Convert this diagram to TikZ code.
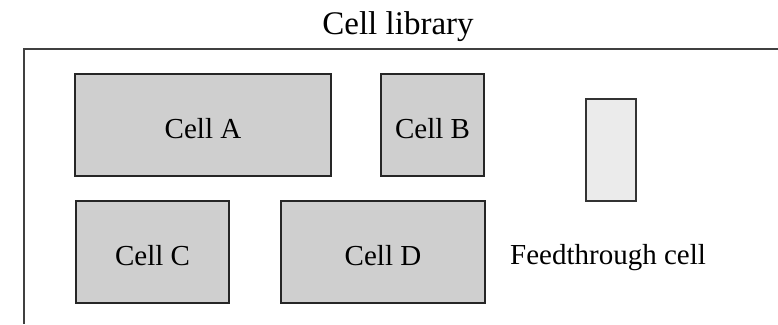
\documentclass[tikz,border=0pt]{standalone}
\usepackage{fontspec}
\setmainfont{Liberation Serif}
\begin{document}
\begin{tikzpicture}[x=1pt,y=-1pt,
  cellbox/.style={draw=black!85, line width=2pt, fill=black!19, inner sep=0pt,
    text height=27pt, text depth=0pt, font=\fontsize{29}{32}\selectfont},
  feedbox/.style={draw=black!80, line width=2pt, fill=black!8, inner sep=0pt},
  frameline/.style={draw=black!75, line width=2.2pt},
  lbl/.style={font=\fontsize{29}{32}\selectfont, inner sep=0pt}]
  \useasboundingbox (0,0) rectangle (778,324);
  % title
  \node[font=\fontsize{33}{36}\selectfont, inner sep=0pt, anchor=base] (title) at (398,34) {Cell library};
  % library frame (open at right and bottom)
  \coordinate (ftl) at (24,49);
  \coordinate (ftr) at (778,49);
  \coordinate (fbl) at (24,324);
  \draw[frameline] (ftr) -- (ftl) -- (fbl);
  % cells
  \node[cellbox, minimum width=256pt, minimum height=102pt] (cellA) at (203,125) {Cell A};
  \node[cellbox, minimum width=103pt, minimum height=102pt] (cellB) at (432.5,125) {Cell B};
  \node[cellbox, minimum width=153pt, minimum height=102pt] (cellC) at (152.5,251.5) {Cell C};
  \node[cellbox, minimum width=204pt, minimum height=102pt] (cellD) at (383,251.5) {Cell D};
  \node[feedbox, minimum width=50pt, minimum height=102pt] (feed) at (611,149.5) {};
  \node[lbl, anchor=base west] (feedlbl) at (510,264) {Feedthrough cell};
\end{tikzpicture}
\end{document}
